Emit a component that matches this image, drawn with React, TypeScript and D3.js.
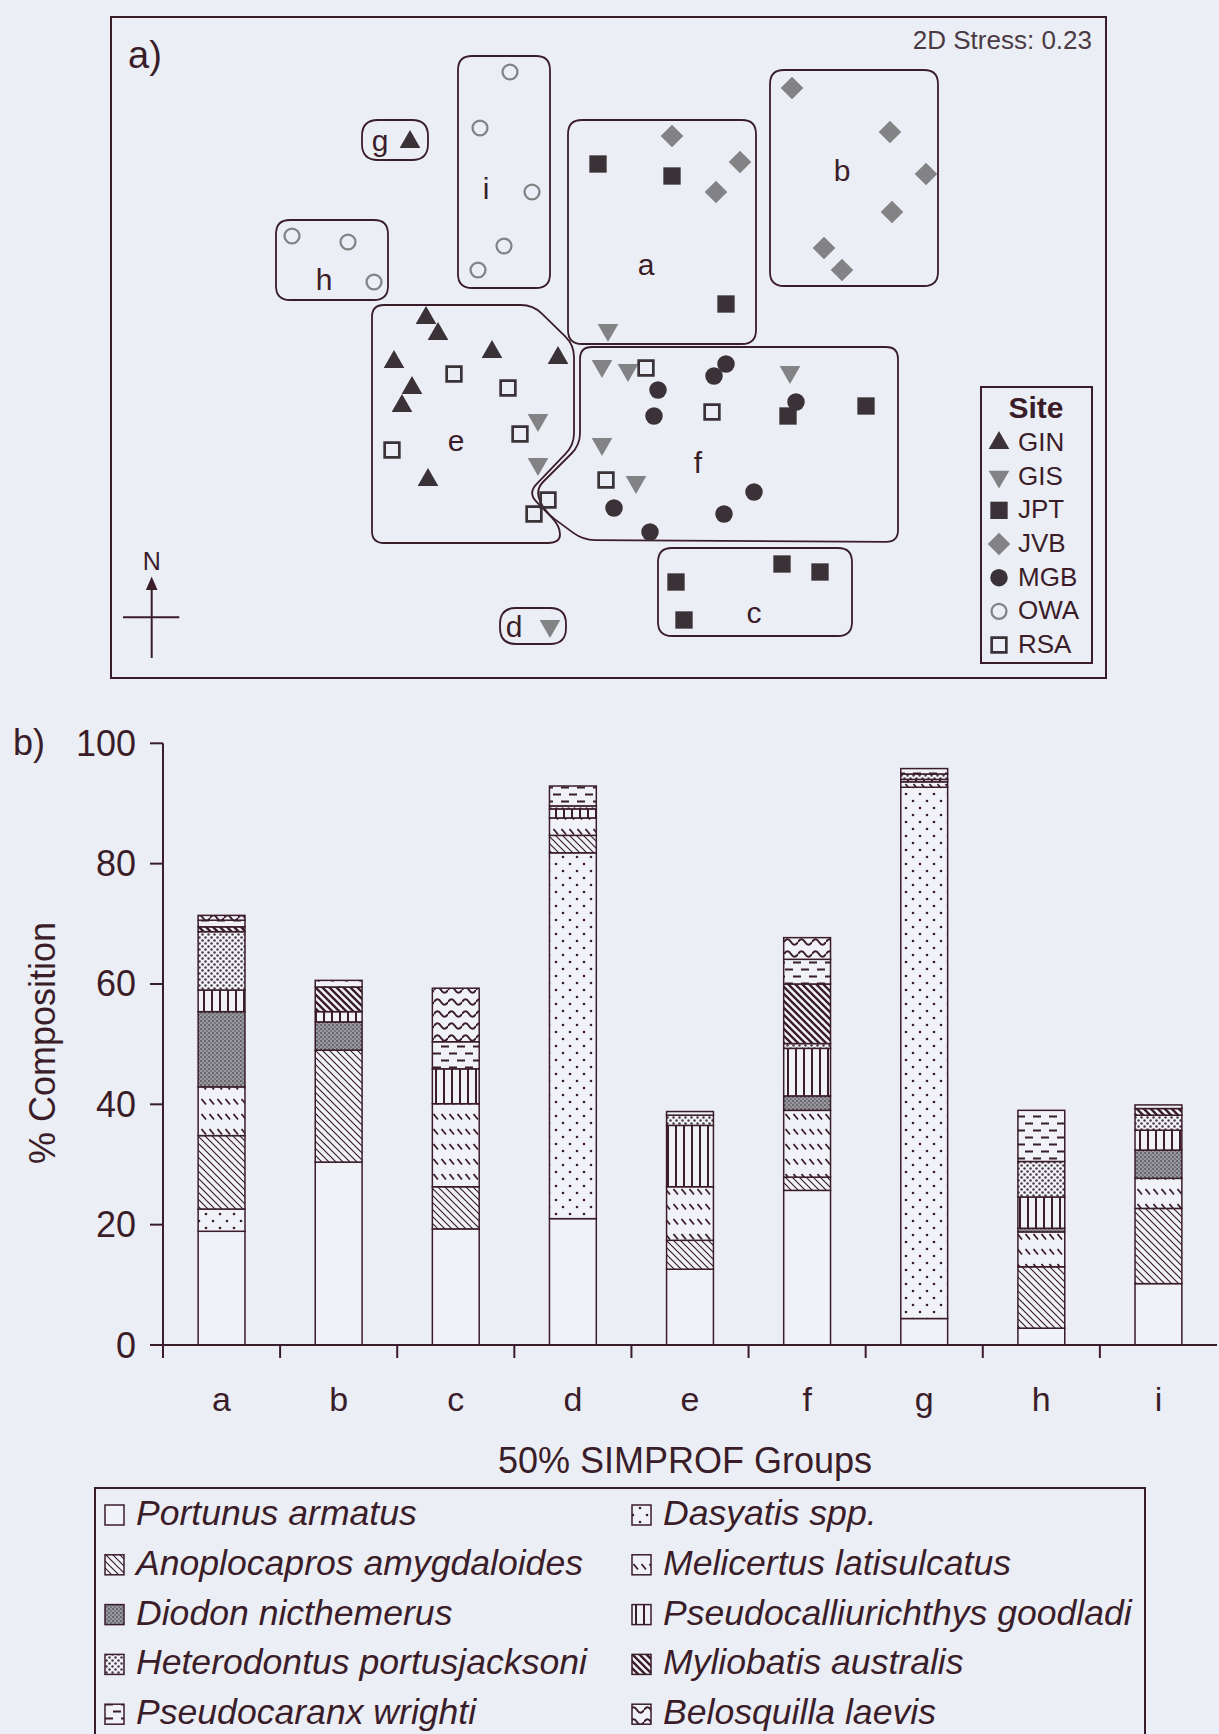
import React from 'react';
import * as d3 from 'd3';

// ---------- DATA ----------
// Panel a: nMDS coordinates per site (MDS units)
const sites = ['GIN', 'GIS', 'JPT', 'JVB', 'MGB', 'OWA', 'RSA'];
const ginPts = [[-0.95, 1.19], [-0.87, 0.31], [-0.81, 0.23], [-0.54, 0.14], [-0.21, 0.11], [-1.03, 0.09], [-0.94, -0.04], [-0.99, -0.13], [-0.86, -0.5]];
const gisPts = [[0.04, 0.25], [0.01, 0.07], [0.14, 0.05], [0.95, 0.04], [0.01, -0.32], [0.18, -0.51], [-0.31, -0.2], [-0.31, -0.42], [-0.25, -1.23]];
const jptPts = [[-0.01, 1.08], [0.36, 1.02], [0.63, 0.38], [0.94, -0.18], [1.33, -0.13], [0.38, -1.01], [0.91, -0.92], [1.1, -0.96], [0.42, -1.2]];
const jvbPts = [[0.36, 1.22], [0.7, 1.09], [0.58, 0.94], [0.96, 1.46], [1.45, 1.24], [1.63, 1.03], [1.46, 0.84], [1.12, 0.66], [1.21, 0.55]];
const mgbPts = [[0.63, 0.08], [0.57, 0.02], [0.29, -0.05], [0.27, -0.18], [0.98, -0.11], [0.77, -0.56], [0.62, -0.67], [0.07, -0.64], [0.25, -0.76]];
const owaPts = [[-0.45, 1.54], [-0.6, 1.26], [-0.34, 0.94], [-0.48, 0.67], [-0.61, 0.55], [-1.54, 0.72], [-1.26, 0.69], [-1.13, 0.49]];
const rsaPts = [[-0.73, 0.03], [-0.46, -0.04], [-1.04, -0.35], [-0.4, -0.27], [-0.26, -0.6], [-0.33, -0.67], [0.23, 0.06], [0.56, -0.16], [0.03, -0.5]];

// SIMPROF group outlines (MDS units)
const groups = ['a', 'b', 'c', 'd', 'e', 'f', 'g', 'h', 'i'];
const boxA = [-0.16, 0.78, 1.3, 0.18];
const boxB = [0.85, 1.69, 1.55, 0.47];
const boxC = [0.29, 1.26, -0.84, -1.28];
const boxD = [-0.5, -0.17, -1.14, -1.32];
const boxG = [-1.19, -0.86, 1.3, 1.1];
const boxH = [-1.62, -1.06, 0.8, 0.4];
const boxI = [-0.71, -0.25, 1.62, 0.46];
const polyE = [[-1.14, 0.375], [-0.335, 0.375], [-0.13, 0.175], [-0.13, -0.325], [-0.36, -0.565], [-0.2, -0.73], [-0.2, -0.815], [-1.14, -0.815]];
const polyF = [[-0.1, 0.165], [1.49, 0.165], [1.49, -0.81], [-0.085, -0.8], [-0.275, -0.66], [-0.325, -0.55], [-0.1, -0.325]];
const groupLabelPos = [[0.23, 0.58], [1.21, 1.05], [0.77, -1.16], [-0.43, -1.23], [-0.72, -0.3], [0.49, -0.41], [-1.1, 1.2], [-1.38, 0.505], [-0.57, 0.96]];

// Panel b: % composition per group (a..i), stacked bottom to top
const species = [
  'Portunus armatus', 'Dasyatis spp.', 'Anoplocapros amygdaloides', 'Melicertus latisulcatus',
  'Diodon nicthemerus', 'Pseudocalliurichthys goodladi', 'Heterodontus portusjacksoni',
  'Myliobatis australis', 'Pseudocaranx wrighti', 'Belosquilla laevis',
];
const portunus = [18.9, 30.4, 19.3, 21.0, 12.6, 25.7, 4.4, 2.8, 10.2];
const dasyatis = [3.7, 0, 0, 60.8, 0, 0, 88.3, 0, 0];
const anoplocapros = [12.2, 18.6, 7.0, 2.9, 4.8, 2.2, 0, 10.2, 12.5];
const melicertus = [8.1, 0, 13.8, 2.9, 8.9, 11.1, 0.9, 5.8, 5.0];
const diodon = [12.5, 4.7, 0, 0, 0, 2.4, 0, 0.6, 4.7];
const pseudocalliurichthys = [3.6, 1.7, 5.8, 1.5, 10.2, 7.9, 0.4, 5.2, 3.3];
const heterodontus = [9.7, 0, 0, 0.5, 1.7, 0.8, 0.9, 5.9, 2.5];
const myliobatis = [0.8, 4.1, 0, 0, 0, 9.9, 0, 0, 1.1];
const pseudocaranx = [1.1, 0, 4.5, 3.3, 0.6, 4.1, 0.9, 8.5, 0.6];
const belosquilla = [0.8, 1.1, 8.9, 0, 0, 3.6, 0, 0, 0];
const yTicks = [0, 20, 40, 60, 80, 100];

// ---------- STYLE ----------
const W = 1219, H = 1734;
const BG = '#eceef5';
const BARBG = '#f1f2f8';
const INK = '#3a1d29';
const DARK = '#3b3238';
const GRAY = '#838385';
const FONT = "'Liberation Sans', Arial, Helvetica, sans-serif";

const speciesSeries = [portunus, dasyatis, anoplocapros, melicertus, diodon, pseudocalliurichthys, heterodontus, myliobatis, pseudocaranx, belosquilla];
const patternIds = ['p-port', 'p-dasy', 'p-anop', 'p-meli', 'p-diod', 'p-pcal', 'p-hete', 'p-myli', 'p-pcar', 'p-belo'];

function roundedPoly(pts: number[][], r: number) {
  const n = pts.length;
  let d = '';
  for (let i = 0; i < n; i++) {
    const p = pts[i];
    const prev = pts[(i - 1 + n) % n];
    const next = pts[(i + 1) % n];
    const d1 = Math.hypot(prev[0] - p[0], prev[1] - p[1]);
    const d2 = Math.hypot(next[0] - p[0], next[1] - p[1]);
    const r1 = Math.min(r, d1 / 2), r2 = Math.min(r, d2 / 2);
    const a = [p[0] + (prev[0] - p[0]) * r1 / d1, p[1] + (prev[1] - p[1]) * r1 / d1];
    const b = [p[0] + (next[0] - p[0]) * r2 / d2, p[1] + (next[1] - p[1]) * r2 / d2];
    d += (i === 0 ? 'M' : 'L') + a[0].toFixed(2) + ',' + a[1].toFixed(2);
    d += 'Q' + p[0].toFixed(2) + ',' + p[1].toFixed(2) + ' ' + b[0].toFixed(2) + ',' + b[1].toFixed(2);
  }
  return d + 'Z';
}

const symTri = d3.symbol(d3.symbolTriangle, 185)() as string;
const symSq = d3.symbol(d3.symbolSquare, 300)() as string;
const symOpenSq = d3.symbol(d3.symbolSquare, 215)() as string;
const symDia = d3.symbol(d3.symbolSquare, 255)() as string;
const symCirc = d3.symbol(d3.symbolCircle, 240)() as string;
const symOpenCirc = d3.symbol(d3.symbolCircle, 175)() as string;

function SiteSymbol({ site, x, y }: { site: string; x: number; y: number }) {
  switch (site) {
    case 'GIN':
      return <path d={symTri} transform={`translate(${x},${y})`} fill={DARK} />;
    case 'GIS':
      return <path d={symTri} transform={`translate(${x},${y}) rotate(180)`} fill={GRAY} />;
    case 'JPT':
      return <path d={symSq} transform={`translate(${x},${y})`} fill={DARK} />;
    case 'JVB':
      return <path d={symDia} transform={`translate(${x},${y}) rotate(45)`} fill={GRAY} />;
    case 'MGB':
      return <path d={symCirc} transform={`translate(${x},${y})`} fill={DARK} />;
    case 'OWA':
      return <path d={symOpenCirc} transform={`translate(${x},${y})`} fill="none" stroke={GRAY} strokeWidth={2.3} />;
    default:
      return <path d={symOpenSq} transform={`translate(${x},${y})`} fill="none" stroke={DARK} strokeWidth={2.7} />;
  }
}

function Patterns() {
  return (
    <defs>
      <pattern id="p-port" patternUnits="userSpaceOnUse" width={10} height={10}>
        <rect width={10} height={10} fill={BARBG} />
      </pattern>
      <pattern id="p-dasy" patternUnits="userSpaceOnUse" width={14} height={14}>
        <rect width={14} height={14} fill={BARBG} />
        <circle cx={3} cy={3} r={1.3} fill={INK} />
        <circle cx={10} cy={10} r={1.3} fill={INK} />
      </pattern>
      <pattern id="p-anop" patternUnits="userSpaceOnUse" width={7} height={7}>
        <rect width={7} height={7} fill={BARBG} />
        <path d="M-1,-1L8,8M-1,6L1,8M6,-1L8,1" stroke={INK} strokeWidth={1.2} />
      </pattern>
      <pattern id="p-meli" patternUnits="userSpaceOnUse" width={8} height={15}>
        <rect width={8} height={15} fill={BARBG} />
        <path d="M1.5,4L6,9.5" stroke={INK} strokeWidth={1.8} />
      </pattern>
      <pattern id="p-diod" patternUnits="userSpaceOnUse" width={4} height={4}>
        <rect width={4} height={4} fill="#9a9aa0" />
        <rect width={2} height={2} fill="#66666c" />
        <rect x={2} y={2} width={2} height={2} fill="#77777d" />
      </pattern>
      <pattern id="p-pcal" patternUnits="userSpaceOnUse" width={8} height={8}>
        <rect width={8} height={8} fill={BARBG} />
        <path d="M4,0V8" stroke={INK} strokeWidth={2} />
      </pattern>
      <pattern id="p-hete" patternUnits="userSpaceOnUse" width={6} height={6}>
        <rect width={6} height={6} fill={BARBG} />
        <circle cx={1.5} cy={1.5} r={1.25} fill="#4a3a44" />
        <circle cx={4.5} cy={4.5} r={1.25} fill="#4a3a44" />
      </pattern>
      <pattern id="p-myli" patternUnits="userSpaceOnUse" width={7} height={7}>
        <rect width={7} height={7} fill={BARBG} />
        <path d="M-1,-1L8,8M-1,6L1,8M6,-1L8,1" stroke={INK} strokeWidth={2.4} />
      </pattern>
      <pattern id="p-pcar" patternUnits="userSpaceOnUse" width={16} height={14}>
        <rect width={16} height={14} fill={BARBG} />
        <path d="M1,3.5H9M9,10.5H17M-7,10.5H1" stroke={INK} strokeWidth={2} />
      </pattern>
      <pattern id="p-belo" patternUnits="userSpaceOnUse" width={14} height={12}>
        <rect width={14} height={12} fill={BARBG} />
        <path d="M0,6Q3.5,0.5 7,6T14,6" stroke={INK} strokeWidth={2} fill="none" />
      </pattern>
    </defs>
  );
}

function PanelA() {
  const x = d3.scaleLinear().domain([-2.445, 2.53]).range([111, 1106]);
  const y = d3.scaleLinear().domain([-1.49, 1.815]).range([678, 17]);
  const sitePts = [ginPts, gisPts, jptPts, jvbPts, mgbPts, owaPts, rsaPts];
  const boxes: [number[], number][] = [[boxA, 14], [boxB, 14], [boxC, 14], [boxD, 16], [boxG, 16], [boxH, 14], [boxI, 14]];
  const boxPath = (b: number[], r: number) => {
    const x0 = x(b[0]), x1 = x(b[1]), y0 = y(b[2]), y1 = y(b[3]);
    return roundedPoly([[x0, y0], [x1, y0], [x1, y1], [x0, y1]], r);
  };
  const polyPath = (p: number[][]) => roundedPoly(p.map(([a, b]) => [x(a), y(b)]), 12);
  const legendY = d3.scaleLinear().domain([0, sites.length - 1]).range([442, 644]);
  return (
    <g>
      <rect x={111} y={17} width={995} height={661} fill="none" stroke={INK} strokeWidth={2} />
      <text x={128} y={68} fontSize={38} fontFamily={FONT} fill={INK}>a)</text>
      <text x={1092} y={49} fontSize={26} fontFamily={FONT} fill="#4a3a44" textAnchor="end">2D Stress: 0.23</text>
      {boxes.map(([b, r], i) => (
        <path key={'box' + i} d={boxPath(b, r)} fill="none" stroke={INK} strokeWidth={1.8} />
      ))}
      <path d={polyPath(polyE)} fill="none" stroke={INK} strokeWidth={1.8} />
      <path d={polyPath(polyF)} fill="none" stroke={INK} strokeWidth={1.8} />
      {groups.map((g, i) => (
        <text key={'gl' + g} x={x(groupLabelPos[i][0])} y={y(groupLabelPos[i][1])} fontSize={30} fontFamily={FONT}
          fill={INK} textAnchor="middle" dominantBaseline="central">{g}</text>
      ))}
      {sites.map((s, si) => sitePts[si].map((p, j) => (
        <SiteSymbol key={s + j} site={s} x={x(p[0])} y={y(p[1])} />
      )))}
      {/* north arrow */}
      <line x1={151.7} y1={586} x2={151.7} y2={658} stroke={INK} strokeWidth={2} />
      <path d="M151.7,576.5L157.5,590L145.9,590Z" fill={INK} />
      <line x1={123} y1={617.3} x2={179.3} y2={617.3} stroke={INK} strokeWidth={2} />
      <text x={151.7} y={570} fontSize={25} fontFamily={FONT} fill={INK} textAnchor="middle">N</text>
      {/* site legend */}
      <rect x={981} y={387} width={111} height={276} fill="none" stroke={INK} strokeWidth={2} />
      <text x={1036} y={418} fontSize={30} fontWeight="bold" fontFamily={FONT} fill={INK} textAnchor="middle">Site</text>
      {sites.map((s, i) => (
        <g key={'lg' + s}>
          <SiteSymbol site={s} x={999} y={legendY(i) + 1} />
          <text x={1018} y={legendY(i) + 9} fontSize={26} fontFamily={FONT} fill={INK}>{s}</text>
        </g>
      ))}
    </g>
  );
}

function PanelB() {
  const x = d3.scaleBand<string>().domain(groups).range([163, 1217]).paddingInner(0.6).paddingOuter(0.3);
  const y = d3.scaleLinear().domain([0, 100]).range([1345, 743.3]);
  const table = groups.map((g, gi) => {
    const row: Record<string, number | string> = { group: g };
    species.forEach((sp, si) => { row[sp] = speciesSeries[si][gi]; });
    return row;
  });
  const stacked = d3.stack<Record<string, number | string>>().keys(species)(table as any);
  const step = x.step();
  const bw = x.bandwidth();
  const xTicks = groups.slice(0, -1).map((g) => (x(g) as number) + bw / 2 + step / 2);
  return (
    <g>
      <text x={13} y={755} fontSize={36} fontFamily={FONT} fill={INK}>b)</text>
      {stacked.map((layer, si) => layer.map((d, gi) => {
        const h = y(d[0]) - y(d[1]);
        if (h <= 0.01) return null;
        return (
          <rect key={si + '-' + gi} x={x(groups[gi])} y={y(d[1])} width={bw} height={h}
            fill={`url(#${patternIds[si]})`} stroke={INK} strokeWidth={1.5} />
        );
      }))}
      {/* y axis */}
      <line x1={163} y1={743.3} x2={163} y2={1358} stroke={INK} strokeWidth={2} />
      {yTicks.map((t) => (
        <g key={'yt' + t}>
          <line x1={150} x2={163} y1={y(t)} y2={y(t)} stroke={INK} strokeWidth={2} />
          <text x={136} y={y(t)} fontSize={36} fontFamily={FONT} fill={INK} textAnchor="end" dominantBaseline="central">{t}</text>
        </g>
      ))}
      {/* x axis */}
      <line x1={163} y1={1345} x2={1217} y2={1345} stroke={INK} strokeWidth={2} />
      {xTicks.map((t, i) => (
        <line key={'xt' + i} x1={t} x2={t} y1={1345} y2={1358} stroke={INK} strokeWidth={2} />
      ))}
      {groups.map((g) => (
        <text key={'xl' + g} x={(x(g) as number) + bw / 2} y={1411} fontSize={34} fontFamily={FONT} fill={INK} textAnchor="middle">{g}</text>
      ))}
      <text x={685} y={1473} fontSize={36} fontFamily={FONT} fill={INK} textAnchor="middle">50% SIMPROF Groups</text>
      <text transform="translate(55,1043) rotate(-90)" fontSize={36} fontFamily={FONT} fill={INK} textAnchor="middle">% Composition</text>
      {/* species legend */}
      <rect x={95} y={1488} width={1050} height={300} fill="none" stroke={INK} strokeWidth={2} />
      {species.map((sp, i) => {
        const row = Math.floor(i / 2), col = i % 2;
        const cy = 1515 + row * 49.8;
        const sx = col === 0 ? 105 : 632;
        return (
          <g key={'sl' + i}>
            <rect x={sx} y={cy - 10} width={19} height={20} fill={`url(#${patternIds[i]})`} stroke={INK} strokeWidth={1.5} />
            <text x={sx + 31} y={cy + 10} fontSize={35.6} fontStyle="italic" fontFamily={FONT} fill={INK}>{sp}</text>
          </g>
        );
      })}
    </g>
  );
}

export default function App() {
  return (
    <svg width={W} height={H} viewBox={`0 0 ${W} ${H}`} style={{ position: 'absolute', left: 0, top: 0, display: 'block' }}>
      <Patterns />
      <rect width={W} height={H} fill={BG} />
      <PanelA />
      <PanelB />
    </svg>
  );
}
